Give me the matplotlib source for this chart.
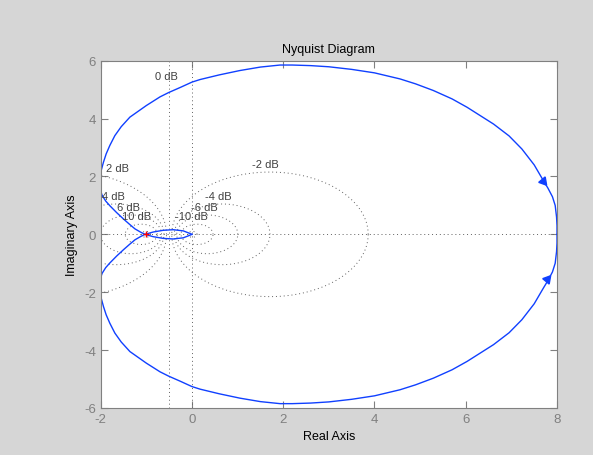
import numpy as np
import matplotlib.pyplot as plt

plt.rcParams['font.family'] = ['Liberation Sans', 'DejaVu Sans']
plt.rcParams['axes.unicode_minus'] = False

# Nyquist curve, one branch (from DC gain 8 to the origin)
re_branch = [8.0, 8.0, 7.99, 7.96, 7.9, 7.80, 7.70, 7.5, 7.23, 6.95, 6.61, 6.3, 6.03,
             5.7, 5.29, 4.9, 4.56, 4.0, 3.5, 3.0, 2.6, 2.2, 1.93, 1.5, 1.05, 0.6,
             0.18, 0.0, -0.25, -0.51, -0.70, -1.0, -1.36, -1.55, -1.69, -1.80, -1.88,
             -1.94, -1.99, -2.03, -2.02, -1.97, -1.89, -1.80, -1.65, -1.50, -1.37,
             -1.25, -1.13, -1.03, -0.85, -0.63, -0.41, -0.19, -0.06, 0.0]
im_branch = [0.0, 0.3, 0.6, 1.0, 1.3, 1.6, 1.86, 2.4, 2.95, 3.4, 3.81, 4.12, 4.39,
             4.68, 4.97, 5.2, 5.37, 5.58, 5.70, 5.79, 5.83, 5.85, 5.85, 5.78, 5.66, 5.51,
             5.35, 5.26, 5.08, 4.90, 4.75, 4.45, 4.05, 3.72, 3.41, 3.07, 2.78,
             2.49, 2.2, 1.9, 1.6, 1.35, 1.15, 0.99, 0.75, 0.53, 0.35,
             0.19, 0.08, 0.0, -0.08, -0.14, -0.16, -0.12, -0.04, 0.0]

# arrow positions and directions
arrow_x = [7.70, 7.78]
arrow_y = [1.86, -1.54]
arrow_ang = [100, 80]

# M-circle grid levels (dB) and which get labels
db_levels = [-20, -10, -6, -4, -2, 2, 4, 6, 10, 20]
label_text = ['0 dB', '2 dB', '4 dB', '6 dB', '10 dB', '-2 dB', '-4 dB', '-6 dB', '-10 dB']
label_pos = [(-0.81, 5.47), (-1.88, 2.29), (-1.98, 1.32), (-1.65, 0.96), (-1.53, 0.63),
             (1.31, 2.43), (0.29, 1.32), (-0.03, 0.96), (-0.37, 0.63)]

x_ticks = [-2, 0, 2, 4, 6, 8]
y_ticks = [-6, -4, -2, 0, 2, 4, 6]

bg = '#d6d6d6'
grey = '#808080'
gridc = '#606060'

fig = plt.figure(figsize=(5.93, 4.56), dpi=100, facecolor=bg)
ax = fig.add_axes([0.1698, 0.1031, 0.7695, 0.7616])
ax.set_facecolor('white')

# grid: M circles, 0 dB line, axes lines
dots = (0, (1, 3))
t = np.linspace(0, 2 * np.pi, 400)
for db in db_levels:
    M = 10 ** (db / 20.0)
    c = -M ** 2 / (M ** 2 - 1)
    r = abs(M / (M ** 2 - 1))
    ax.plot(c + r * np.cos(t), r * np.sin(t), color=gridc, lw=0.7, ls=dots)
ax.axvline(-0.5, color=gridc, lw=0.7, ls=dots)
ax.axvline(0, color=gridc, lw=0.7, ls=dots)
ax.axhline(0, color=gridc, lw=0.7, ls=dots)

for txt, (px, py) in zip(label_text, label_pos):
    ax.text(px, py, txt, fontsize=8, color='#404040', va='center', ha='left')

# Nyquist curve and its mirror image
re = np.array(re_branch)
im = np.array(im_branch)
ax.plot(re, im, color='#1040ff', lw=1)
ax.plot(re, -im, color='#1040ff', lw=1)
for xa, ya, ang in zip(arrow_x, arrow_y, arrow_ang):
    ax.plot(xa, ya, marker=(3, 0, ang), color='#1040ff', ms=7, mec='#1040ff')
ax.plot(-1, 0, marker='+', color='red', ms=5, mew=1)

ax.set_xlim(-2, 8)
ax.set_ylim(-6, 6)
ax.set_xticks(x_ticks)
ax.set_yticks(y_ticks)
ax.tick_params(direction='in', top=True, right=True, length=5, color=grey,
               labelcolor=grey, labelsize=9.5)
for s in ax.spines.values():
    s.set_color(grey)

ax.set_title('Nyquist Diagram', fontsize=9, color='black', pad=6)
ax.set_xlabel('Real Axis', fontsize=9, color='black')
ax.set_ylabel('Imaginary Axis', fontsize=9, color='black')

fig.savefig('out.png', dpi=100, facecolor=bg)
